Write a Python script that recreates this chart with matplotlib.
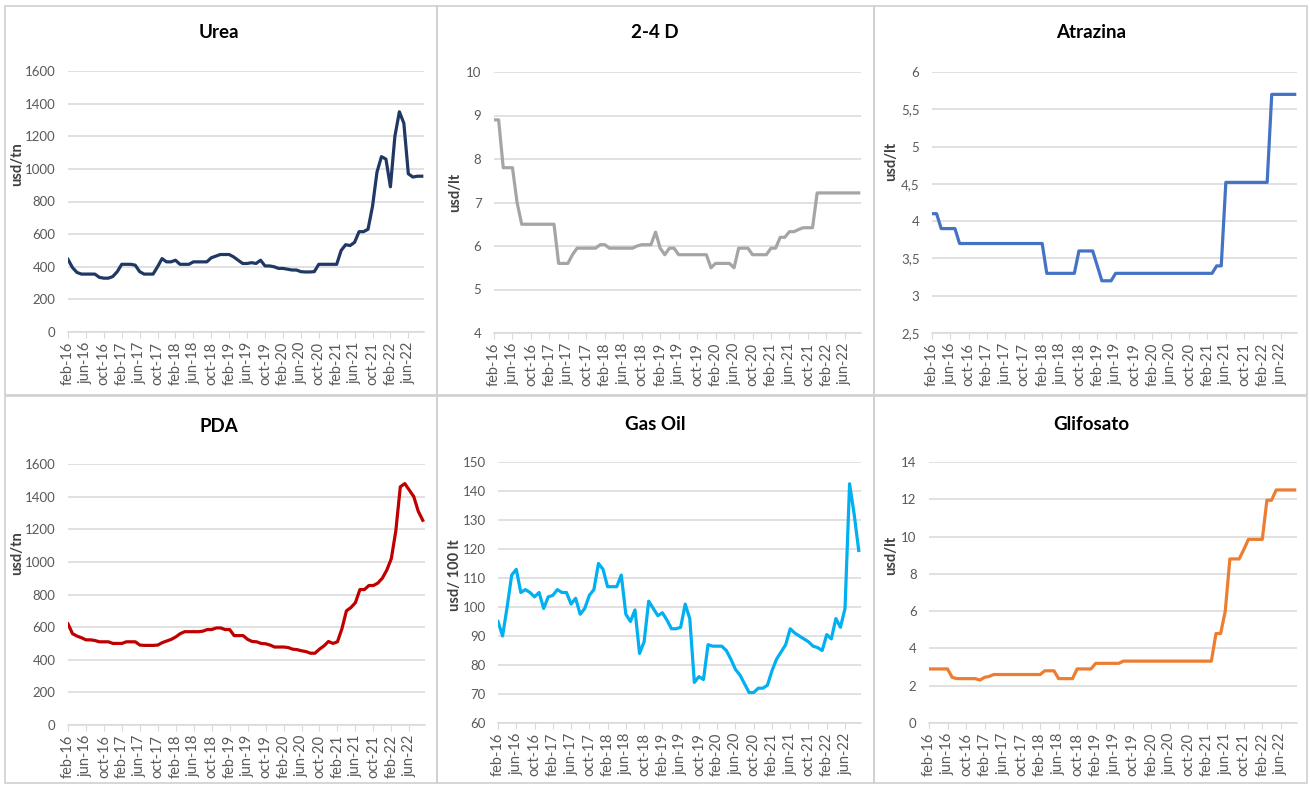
import matplotlib.pyplot as plt
import matplotlib.ticker as ticker
from matplotlib.patches import Rectangle
import numpy as np

plt.rcParams['font.family'] = ['Lato', 'DejaVu Sans']

tick_labels = ['feb-16', 'jun-16', 'oct-16', 'feb-17', 'jun-17', 'oct-17', 'feb-18', 'jun-18',
               'oct-18', 'feb-19', 'jun-19', 'oct-19', 'feb-20', 'jun-20', 'oct-20', 'feb-21',
               'jun-21', 'oct-21', 'feb-22', 'jun-22']

urea = [445, 395, 365, 355, 355, 355, 355, 335, 330, 330,
        340, 370, 415, 415, 415, 410, 370, 355, 355, 355,
        400, 450, 430, 430, 440, 415, 415, 415, 430, 430,
        430, 430, 455, 465, 475, 475, 475, 460, 440, 420,
        420, 425, 420, 440, 405, 405, 400, 390, 390, 385,
        380, 380, 370, 368, 368, 370, 415, 415, 415, 415,
        415, 500, 535, 530, 550, 615, 615, 630, 770, 980,
        1075, 1060, 890, 1200, 1350, 1280, 970, 950, 955, 955]

d24 = [8.9, 8.9, 7.8, 7.8, 7.8, 7.0, 6.5, 6.5, 6.5, 6.5,
       6.5, 6.5, 6.5, 6.5, 5.6, 5.6, 5.6, 5.8, 5.95, 5.95,
       5.95, 5.95, 5.95, 6.03, 6.03, 5.95, 5.95, 5.95, 5.95, 5.95,
       5.95, 6.0, 6.03, 6.03, 6.03, 6.32, 5.95, 5.8, 5.95, 5.95,
       5.8, 5.8, 5.8, 5.8, 5.8, 5.8, 5.8, 5.5, 5.6, 5.6,
       5.6, 5.6, 5.5, 5.95, 5.95, 5.95, 5.8, 5.8, 5.8, 5.8,
       5.95, 5.95, 6.2, 6.2, 6.33, 6.33, 6.38, 6.42, 6.42, 6.42,
       7.22, 7.22, 7.22, 7.22, 7.22, 7.22, 7.22, 7.22, 7.22, 7.22]

atrazina = [4.1, 4.1, 3.9, 3.9, 3.9, 3.9, 3.7, 3.7, 3.7, 3.7,
            3.7, 3.7, 3.7, 3.7, 3.7, 3.7, 3.7, 3.7, 3.7, 3.7,
            3.7, 3.7, 3.7, 3.7, 3.7, 3.3, 3.3, 3.3, 3.3, 3.3,
            3.3, 3.3, 3.6, 3.6, 3.6, 3.6, 3.4, 3.2, 3.2, 3.2,
            3.3, 3.3, 3.3, 3.3, 3.3, 3.3, 3.3, 3.3, 3.3, 3.3,
            3.3, 3.3, 3.3, 3.3, 3.3, 3.3, 3.3, 3.3, 3.3, 3.3,
            3.3, 3.3, 3.4, 3.4, 4.52, 4.52, 4.52, 4.52, 4.52, 4.52,
            4.52, 4.52, 4.52, 4.52, 5.7, 5.7, 5.7, 5.7, 5.7, 5.7]

pda = [620, 560, 545, 535, 522, 522, 518, 510, 510, 510,
       500, 500, 500, 510, 510, 510, 490, 488, 488, 488,
       490, 505, 515, 525, 540, 560, 572, 572, 572, 572,
       575, 585, 585, 595, 595, 585, 585, 548, 548, 548,
       525, 512, 510, 500, 498, 490, 478, 478, 478, 475,
       465, 462, 455, 450, 440, 440, 465, 485, 512, 500,
       510, 590, 700, 720, 750, 830, 830, 855, 855, 870,
       900, 950, 1020, 1190, 1460, 1480, 1440, 1400, 1310, 1255]

gas_oil = [95, 90, 100, 111, 113, 105, 106, 105, 103.5, 105,
           99.5, 103.5, 104, 106, 105, 105, 101, 103, 97.5, 99.5,
           104, 106, 115, 113, 107, 107, 107, 111, 97.5, 95,
           99, 84, 88, 102, 99.5, 97, 98, 95.5, 92.5, 92.5,
           93, 101, 96, 74, 76, 75, 87, 86.5, 86.5, 86.5,
           85, 82, 78.5, 76.5, 73.5, 70.5, 70.5, 72, 72, 73,
           78, 82, 84.5, 87, 92.5, 91, 90, 89, 88, 86.5,
           86, 85, 90.5, 89, 96, 93, 99.5, 142.5, 132, 119.5]

glifosato = [2.9, 2.9, 2.9, 2.9, 2.9, 2.45, 2.38, 2.38, 2.38, 2.38,
             2.38, 2.3, 2.45, 2.5, 2.6, 2.6, 2.6, 2.6, 2.6, 2.6,
             2.6, 2.6, 2.6, 2.6, 2.6, 2.8, 2.8, 2.8, 2.38, 2.38,
             2.38, 2.38, 2.9, 2.9, 2.9, 2.9, 3.2, 3.2, 3.2, 3.2,
             3.2, 3.2, 3.32, 3.32, 3.32, 3.32, 3.32, 3.32, 3.32, 3.32,
             3.32, 3.32, 3.32, 3.32, 3.32, 3.32, 3.32, 3.32, 3.32, 3.32,
             3.32, 3.32, 4.8, 4.8, 6.0, 8.8, 8.8, 8.8, 9.3, 9.85,
             9.85, 9.85, 9.85, 11.95, 11.95, 12.5, 12.5, 12.5, 12.5, 12.5]

W, H = 1310, 785
fig = plt.figure(figsize=(W / 100, H / 100), dpi=100)

# title, data, colour, ylabel, ymin, ymax, step, axes box (px), title centre (px), ylabel pos (px)
panels = [
    ('Urea', urea, '#203864', 'usd/tn', 0, 1600, 200, (68, 71, 424, 332), (219, 33), (17, 164)),
    ('2-4 D', d24, '#A5A5A5', 'usd/lt', 4, 10, 1, (494, 72, 861, 333), (655, 33), (455, 192)),
    ('Atrazina', atrazina, '#4472C4', 'usd/lt', 2.5, 6, 0.5, (932, 72, 1297, 333), (1091, 33), (891, 161)),
    ('PDA', pda, '#C00000', 'usd/tn', 0, 1600, 200, (68, 464, 425, 725), (219, 426), (17, 553)),
    ('Gas Oil', gas_oil, '#00B0F0', 'usd/ 100 lt', 60, 150, 10, (498, 462, 861, 723), (655, 425), (455, 575)),
    ('Glifosato', glifosato, '#ED7D31', 'usd/lt', 0, 14, 2, (929, 462, 1297, 723), (1091, 425), (891, 555)),
]

# panel frames
for x0, y0, x1, y1 in [(5, 6, 437, 395), (437, 6, 874, 395), (874, 6, 1307, 395),
                       (5, 396, 437, 783), (437, 396, 874, 783), (874, 396, 1307, 783)]:
    fig.patches.append(Rectangle((x0 / W, 1 - y1 / H), (x1 - x0) / W, (y1 - y0) / H,
                                 transform=fig.transFigure, fill=False,
                                 edgecolor='#D0D0D0', lw=1.2))

comma = ticker.FuncFormatter(lambda v, p: ('%g' % v).replace('.', ','))

for title, data, color, ylab, ymin, ymax, step, box, tpos, lpos in panels:
    l, t, r, b = box
    ax = fig.add_axes([l / W, 1 - b / H, (r - l) / W, (b - t) / H])
    x = np.arange(len(data))
    ax.plot(x, data, color=color, lw=2.3, solid_joinstyle='round')
    ax.set_xlim(0, 79.5)
    ax.set_ylim(ymin, ymax)
    ax.set_yticks(np.arange(ymin, ymax + step / 2, step))
    ax.yaxis.set_major_formatter(comma)
    ax.set_xticks(np.arange(0, 80, 4))
    ax.set_xticklabels(tick_labels, rotation=90)
    ax.grid(axis='y', color='#D9D9D9', lw=1.1)
    ax.set_axisbelow(True)
    for s in ['top', 'right', 'left']:
        ax.spines[s].set_visible(False)
    ax.spines['bottom'].set_color('#D9D9D9')
    ax.spines['bottom'].set_linewidth(1.1)
    ax.tick_params(axis='y', length=0, pad=9, labelsize=9.5, labelcolor='#595959')
    ax.tick_params(axis='x', length=4, color='#D9D9D9', pad=3, labelsize=10.5, labelcolor='#595959')
    fig.text(tpos[0] / W, 1 - tpos[1] / H, title, ha='center', va='center',
             fontsize=13.5, fontweight='bold', color='black')
    fig.text(lpos[0] / W, 1 - lpos[1] / H, ylab, ha='center', va='center', rotation=90,
             fontsize=10.5, fontweight='bold', color='#404040')

fig.savefig('out.png', dpi=100)
